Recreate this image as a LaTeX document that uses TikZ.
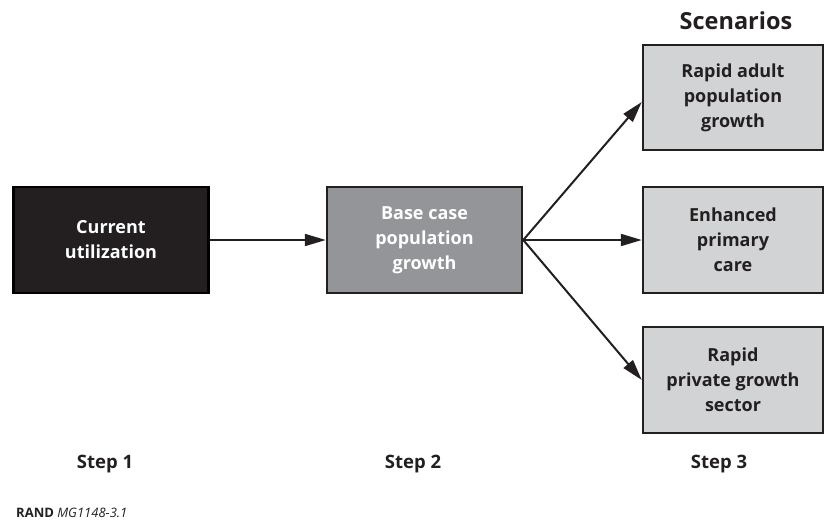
\documentclass[tikz,border=0pt]{standalone}
\usepackage{fontspec}
\setmainfont{Open Sans}
\usetikzlibrary{arrows.meta}
\definecolor{ink}{HTML}{231F20}
\definecolor{midgray}{HTML}{939598}
\definecolor{lightgray}{HTML}{D1D3D4}
\tikzset{
  box/.style={draw=ink, line width=2.5pt, minimum width=195pt, minimum height=106pt, align=center,
    font=\fontsize{18}{25}\selectfont\bfseries, inner sep=0pt},
  scen/.style={box, fill=lightgray, text=ink, minimum width=180pt},
  conn/.style={draw=ink, line width=2pt, -{Triangle[length=21pt,width=12pt]}},
  steplabel/.style={font=\fontsize{18.5}{22}\selectfont\bfseries, text=ink}
}
\begin{document}
\begin{tikzpicture}[x=1pt,y=-1pt]
\useasboundingbox (0,0) rectangle (825,520);
\node[box, fill=ink, draw=black, text=white] (cur) at (111,240) {Current\\utilization};
\node[box, fill=midgray, text=white] (base) at (424.5,240) {Base case\\population\\growth};
\node[scen, minimum height=105pt] (s1) at (733,97.5) {Rapid adult\\population\\growth};
\node[scen] (s2) at (733,240) {Enhanced\\primary\\care};
\node[scen] (s3) at (733,380) {Rapid\\private growth\\sector};
\node[font=\fontsize{23.5}{28}\selectfont\bfseries, text=ink] (scn) at (736,21) {Scenarios};
\node[steplabel] (st1) at (105,464) {Step 1};
\node[steplabel] (st2) at (413,464) {Step 2};
\node[steplabel] (st3) at (719,464) {Step 3};
\node[anchor=west, font=\fontsize{13}{15}\selectfont, text=ink, inner sep=0pt] (rand) at (16,513) {\textbf{RAND} \textit{MG1148-3.1}};
\coordinate (t1) at (s1.west |- 0,102);
\draw[conn] (cur.east) -- (base.west);
\draw[conn] (base.east) -- (t1);
\draw[conn] (base.east) -- (s2.west);
\draw[conn] (base.east) -- (s3.west);
\end{tikzpicture}
\end{document}
